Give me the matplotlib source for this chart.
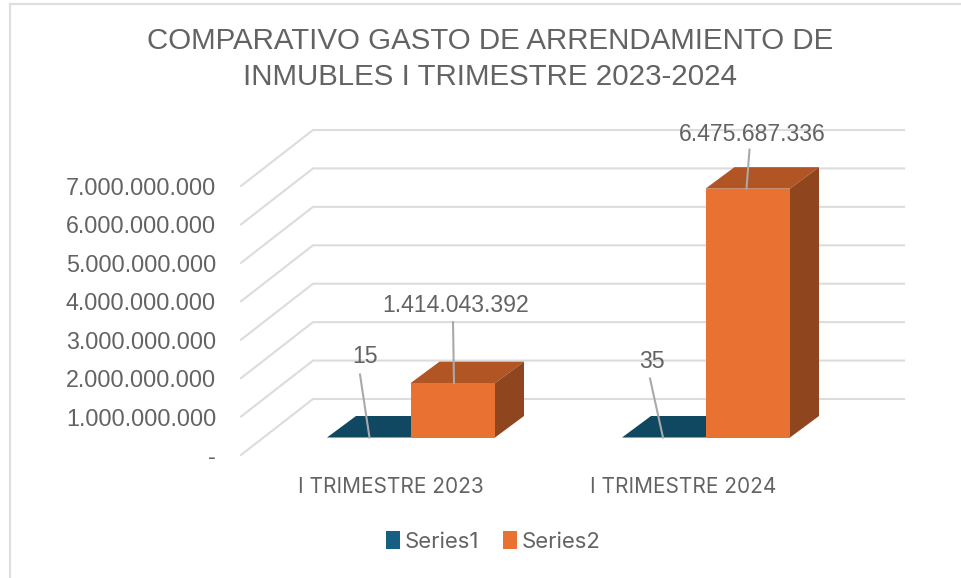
import matplotlib
matplotlib.use("Agg")
import matplotlib.pyplot as plt
from matplotlib.lines import Line2D
from matplotlib.patches import Patch, Polygon

title = "COMPARATIVO GASTO DE ARRENDAMIENTO DE\nINMUBLES I TRIMESTRE 2023-2024"
categories = ["I TRIMESTRE 2023", "I TRIMESTRE 2024"]
series1 = [15, 35]
series2 = [1414043392, 6475687336]
tick_values = [0, 1e9, 2e9, 3e9, 4e9, 5e9, 6e9, 7e9]
tick_labels = ["-", "1.000.000.000", "2.000.000.000", "3.000.000.000",
               "4.000.000.000", "5.000.000.000", "6.000.000.000", "7.000.000.000"]
labels1 = ["15", "35"]
labels2 = ["1.414.043.392", "6.475.687.336"]

W, H = 961, 578
L, R, B, T = 241, 904, 455, 186
SANS = "Liberation Sans"
SANS2 = "Inter"
TXT = "#636363"
GRID = "#DCDCDC"

fig = plt.figure(figsize=(W / 100, H / 100), dpi=100, facecolor="white")
ax = fig.add_axes([L / W, 1 - B / H, (R - L) / W, (B - T) / H])
ax.set_xlim(L, R)
ax.set_ylim(0, 7e9)
ax.patch.set_visible(False)
for s in ax.spines.values():
    s.set_visible(False)

upp = 7e9 / (B - T)          # value units per pixel
back_dx, back_dy = 72, 56 * upp   # wall depth
bar_dx, bar_dy = 29, 21.5 * upp   # bar depth
base = 17.5 * upp            # front of the bars above the floor edge
bar_w = 84.5
centers = [410.5, 705.5]     # boundary between the two bars of each group

# walls
for v in tick_values:
    ax.plot([L, L + back_dx, R], [v, v + back_dy, v + back_dy], color=GRID,
            lw=1.5, clip_on=False, solid_joinstyle="miter", zorder=1)

# bars
C1, C1D = "#156082", "#104862"
C2, C2T, C2S = "#E97132", "#B05523", "#8F451E"
for c, v1, v2 in zip(centers, series1, series2):
    x0 = c - bar_w + 1
    ax.add_patch(Polygon([(x0, base + v1), (c, base + v1), (c + bar_dx, base + v1 + bar_dy),
                          (x0 + bar_dx, base + v1 + bar_dy)],
                         closed=True, fc=C1D, ec="none", zorder=3, clip_on=False))
    ax.bar(c, v2, width=bar_w, bottom=base, align="edge", color=C2, zorder=5, clip_on=False)
    x1 = c + bar_w
    top = base + v2
    ax.add_patch(Polygon([(c, top), (x1, top), (x1 + bar_dx, top + bar_dy), (c + bar_dx, top + bar_dy)],
                         closed=True, fc=C2T, ec="none", zorder=4, clip_on=False))
    ax.add_patch(Polygon([(x1, base), (x1 + bar_dx, base + bar_dy), (x1 + bar_dx, top + bar_dy), (x1, top)],
                         closed=True, fc=C2S, ec="none", zorder=4, clip_on=False))

# data labels with leader lines (offsets in pixels from the mark)
def label(text, x, v, tx, ty, lx, ly):
    ax.plot([x, x + lx], [v, v + ly * upp], color="#A9A9A9", lw=1.5, zorder=6, clip_on=False)
    ax.text(x + tx, v + ty * upp, text, ha="center", va="center", fontsize=16.6,
            family=SANS, color=TXT, zorder=7, clip_on=False)

label(labels1[0], centers[0] - 41, base + series1[0], -4.5, 80.5, -9.5, 63)
label(labels1[1], centers[1] - 42.5, base + series1[1], -11, 75.5, -13, 59)
label(labels2[0], centers[0] + 43.5, base + series2[0], 2, 77.5, -1, 61)
label(labels2[1], centers[1] + 41, base + series2[1], 5.5, 54.5, 3, 39)

# axes ticks
ax.set_yticks(tick_values, tick_labels)
ax.tick_params(axis="y", length=0, pad=18, labelsize=16.8, labelcolor=TXT)
for t in ax.get_yticklabels():
    t.set_family(SANS)
ax.set_xticks([390.5, 683.5], categories)
ax.tick_params(axis="x", length=0, pad=15.5, labelsize=15, labelcolor=TXT)
for t in ax.get_xticklabels():
    t.set_family(SANS2)

# title
fig.text(490 / W, 1 - 41 / H, title.split("\n")[0], ha="center", va="center",
         family=SANS, fontsize=21.25, color=TXT)
fig.text(490 / W, 1 - 77 / H, title.split("\n")[1], ha="center", va="center",
         family=SANS, fontsize=21.25, color=TXT)

# legend
handles = [Patch(fc=C1, ec="none"), Patch(fc=C2, ec="none")]
fig.legend(handles, ["Series1", "Series2"], ncols=2, loc="center",
           bbox_to_anchor=(493.5 / W, 1 - 541.5 / H), frameon=False, labelcolor=TXT,
           prop={"family": SANS2, "size": 15.9}, handlelength=0.63, handleheight=0.85,
           handletextpad=0.2, columnspacing=1.1, borderpad=0)

# frame of the pasted chart
fig.add_artist(Line2D([9.5 / W, 9.5 / W], [0, 1 - 3.5 / H], color="#DEDEDE", lw=1.6))
fig.add_artist(Line2D([9.5 / W, 1], [1 - 3.5 / H, 1 - 3.5 / H], color="#DEDEDE", lw=1.6))

fig.savefig("out.png", dpi=100, facecolor="white")
